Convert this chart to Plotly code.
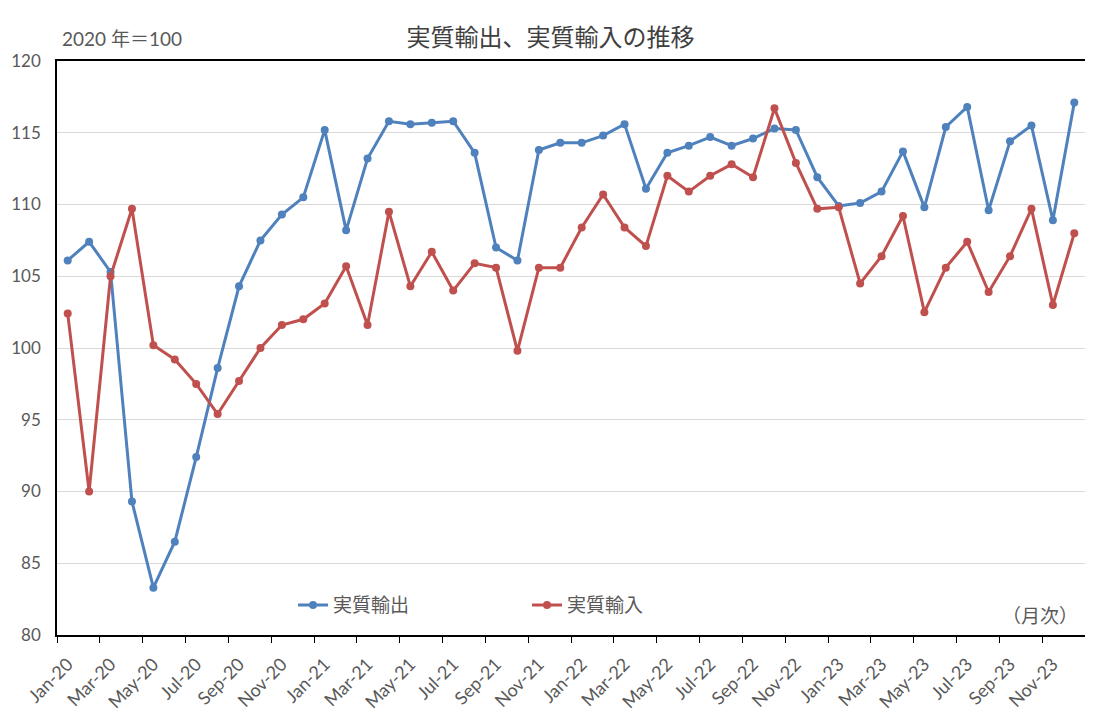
import plotly.graph_objects as go

# monthly index, 2020 = 100
months = ['Jan-20', 'Feb-20', 'Mar-20', 'Apr-20', 'May-20', 'Jun-20', 'Jul-20', 'Aug-20', 'Sep-20', 'Oct-20', 'Nov-20', 'Dec-20',
          'Jan-21', 'Feb-21', 'Mar-21', 'Apr-21', 'May-21', 'Jun-21', 'Jul-21', 'Aug-21', 'Sep-21', 'Oct-21', 'Nov-21', 'Dec-21',
          'Jan-22', 'Feb-22', 'Mar-22', 'Apr-22', 'May-22', 'Jun-22', 'Jul-22', 'Aug-22', 'Sep-22', 'Oct-22', 'Nov-22', 'Dec-22',
          'Jan-23', 'Feb-23', 'Mar-23', 'Apr-23', 'May-23', 'Jun-23', 'Jul-23', 'Aug-23', 'Sep-23', 'Oct-23', 'Nov-23', 'Dec-23']

exports = [106.1, 107.4, 105.3, 89.3, 83.3, 86.5, 92.4, 98.6, 104.3, 107.5, 109.3, 110.5,
           115.2, 108.2, 113.2, 115.8, 115.6, 115.7, 115.8, 113.6, 107.0, 106.1, 113.8, 114.3,
           114.3, 114.8, 115.6, 111.1, 113.6, 114.1, 114.7, 114.1, 114.6, 115.3, 115.2, 111.9,
           109.9, 110.1, 110.9, 113.7, 109.8, 115.4, 116.8, 109.6, 114.4, 115.5, 108.9, 117.1]

imports = [102.4, 90.0, 105.0, 109.7, 100.2, 99.2, 97.5, 95.4, 97.7, 100.0, 101.6, 102.0,
           103.1, 105.7, 101.6, 109.5, 104.3, 106.7, 104.0, 105.9, 105.6, 99.8, 105.6, 105.6,
           108.4, 110.7, 108.4, 107.1, 112.0, 110.9, 112.0, 112.8, 111.9, 116.7, 112.9, 109.7,
           109.8, 104.5, 106.4, 109.2, 102.5, 105.6, 107.4, 103.9, 106.4, 109.7, 103.0, 108.0]

x = list(range(len(months)))
cjk = 'Noto Sans CJK JP'
latin = 'Lato, Noto Sans CJK JP'
grey = '#595959'

fig = go.Figure()
fig.add_trace(go.Scatter(x=x, y=exports, name='実質輸出', mode='lines+markers',
                         line=dict(color='#4F81BD', width=3), marker=dict(size=8)))
fig.add_trace(go.Scatter(x=x, y=imports, name='実質輸入', mode='lines+markers',
                         line=dict(color='#C0504D', width=3), marker=dict(size=8)))

fig.update_xaxes(range=[-0.5, len(months) - 0.5], tickvals=x[::2], ticktext=months[::2],
                 tickangle=-45, ticks='', showgrid=False, zeroline=False, automargin=False,
                 showline=True, linecolor='black', linewidth=1.5, mirror=True,
                 ticklabelstandoff=10,
                 tickfont=dict(size=18, color=grey, family=latin),
                 minor=dict(ticks='outside', tick0=-0.5, dtick=2, ticklen=6,
                            tickcolor='black', showgrid=False))
fig.update_yaxes(range=[80, 120], dtick=5, showgrid=True, gridcolor='#d9d9d9', gridwidth=1,
                 zeroline=False, showline=True, linecolor='black', linewidth=1.5, mirror=True,
                 automargin=False, ticks='', ticklabelstandoff=11,
                 tickfont=dict(size=17, color=grey, family=latin))

fig.add_annotation(text='2020 年＝100', xref='paper', yref='paper', x=0.003, y=1.040,
                   xanchor='left', yanchor='middle', showarrow=False,
                   font=dict(size=19, color=grey, family=latin))
fig.add_annotation(text='（月次）', xref='paper', yref='paper', x=0.995, y=0.035,
                   xanchor='right', yanchor='middle', showarrow=False,
                   font=dict(size=19, color=grey, family=cjk))

fig.update_layout(
    width=1085, height=710,
    margin=dict(l=49, r=8, t=53, b=83, autoexpand=False),
    paper_bgcolor='white', plot_bgcolor='white',
    font=dict(family=cjk, color=grey),
    title=dict(text='実質輸出、実質輸入の推移', x=0.5, xanchor='center', y=0.959, yanchor='middle',
               font=dict(size=24, color='#404040', family=cjk)),
    legend=dict(orientation='h', x=0.2296, y=0.052, xanchor='left', yanchor='middle',
                bgcolor='rgba(0,0,0,0)', font=dict(size=19, color=grey), entrywidth=189),
    showlegend=True,
)

fig.write_html("out.html")
